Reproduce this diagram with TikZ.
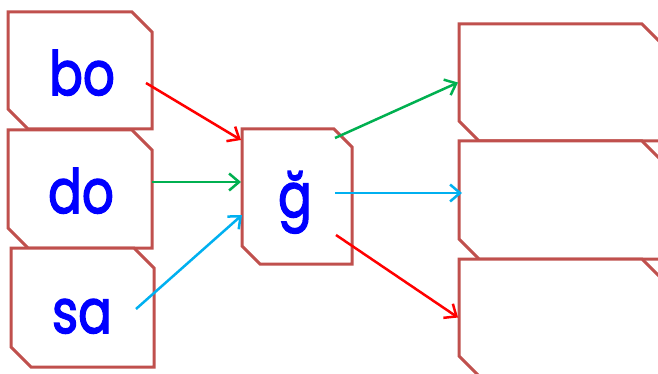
\documentclass[tikz,border=0pt]{standalone}
\usepackage{fontspec}
\newfontfamily\wordfont[FakeBold=2.5]{Poppins}
\usetikzlibrary{arrows.meta}
\definecolor{boxc}{HTML}{C0504D}
\definecolor{arrred}{HTML}{FF0000}
\definecolor{arrgreen}{HTML}{00B050}
\definecolor{arrcyan}{HTML}{00B0F0}
\definecolor{txtblue}{HTML}{0000FF}
\tikzset{
  cbox/.style={rectangle, draw=none, inner sep=0pt, outer sep=0pt},
  boxline/.style={draw=boxc, line width=3pt, fill=white, line join=miter},
  word/.style={text=txtblue, font=\wordfont\fontsize{61}{61}\selectfont, anchor=base, inner sep=0pt},
  conn/.style={line width=2.5pt, -{Straight Barb[length=10pt,width=17pt]}}
}
\newcommand\chbox[2]{%
  \draw[boxline] ([xshift=-#2]#1.north east) -- (#1.north west) -- ([yshift=#2]#1.south west)
    -- ([xshift=#2]#1.south west) -- (#1.south east) -- ([yshift=-#2]#1.north east) -- cycle;}
\newcommand\myword[1]{\scalebox{0.82}[1]{#1}}
\begin{document}
\begin{tikzpicture}[x=1pt,y=-1pt]
\clip (0,0) rectangle (658,374);
\fill[white] (0,0) rectangle (658,374);
% left boxes
\node[cbox, minimum width=144pt, minimum height=117pt] (bo) at (80,70.5) {};
\node[cbox, minimum width=144pt, minimum height=118pt] (do) at (80,189) {};
\node[cbox, minimum width=143pt, minimum height=119pt] (sa) at (82.5,307.5) {};
\chbox{bo}{20pt}
\chbox{do}{20pt}
\chbox{sa}{20pt}
\node[word] (tbo) at (82,95) {\myword{bo}};
\node[word] (tdo) at (81,213) {\myword{do}};
\node[word] (tsa) at (82,333) {\myword{sa}};
% middle box
\node[cbox, minimum width=110pt, minimum height=135pt] (g) at (297,196.5) {};
\chbox{g}{18pt}
\node[word] (tg) at (295,217) {\myword{ğ}};
% right boxes
\node[cbox, minimum width=203pt, minimum height=117pt] (r1) at (560.5,82.5) {};
\node[cbox, minimum width=203pt, minimum height=118pt] (r2) at (560.5,200) {};
\node[cbox, minimum width=203pt, minimum height=117pt] (r3) at (560.5,317.5) {};
\chbox{r1}{20pt}
\chbox{r2}{20pt}
\chbox{r3}{20pt}
% connectors in
\draw[conn, arrred] ([xshift=-6pt,yshift=-12.5pt]bo.east) -- ([xshift=-1pt,yshift=-11pt]g.north west);
\draw[conn, arrgreen] ([yshift=7pt]do.east) -- ([xshift=-1pt,yshift=14.5pt]g.west);
\draw[conn, arrcyan] ([xshift=-18pt,yshift=-1.5pt]sa.east) -- ([yshift=-18.5pt]g.west);
% connectors out
\draw[conn, arrgreen] ([xshift=-17pt,yshift=-9pt]g.north east) -- ([xshift=-1pt]r1.west);
\draw[conn, arrcyan] ([xshift=-17pt,yshift=3.5pt]g.east) -- ([xshift=3pt,yshift=7pt]r2.west);
\draw[conn, arrred] ([xshift=-16pt,yshift=29pt]g.south east) -- ([xshift=-1pt]r3.west);
\end{tikzpicture}
\end{document}
